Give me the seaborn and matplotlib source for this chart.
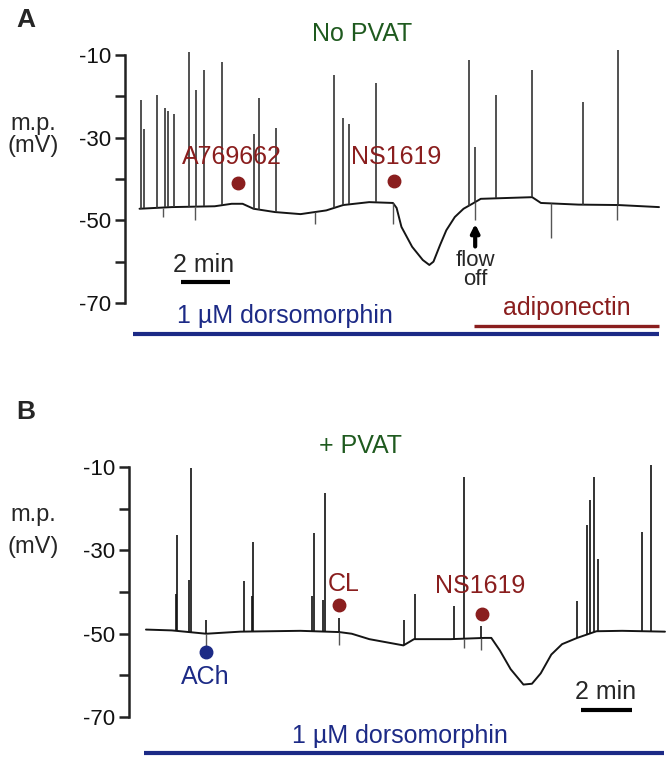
import numpy as np
import pandas as pd
import matplotlib
matplotlib.use("Agg")
import matplotlib.pyplot as plt
import seaborn as sns

# ---- Panel A (No PVAT): baseline of the trace, time in min, potential in mV
a_base_t = [0.0, 1.33, 3.1, 3.8, 4.25, 4.7, 5.58, 6.64, 7.7, 8.4, 9.47, 10.45, 10.6,
            10.8, 11.24, 11.68, 11.95, 12.12, 12.39, 12.65, 13.0, 13.36, 13.72, 14.07,
            16.19, 16.55, 18.1, 19.73, 21.42]
a_base_mv = [-47.2, -46.8, -46.6, -46.0, -46.0, -47.2, -48.0, -48.5, -47.6, -46.3, -45.6,
             -45.8, -47.0, -51.6, -56.4, -59.6, -60.8, -60.0, -56.0, -52.4, -49.2, -47.2,
             -46.0, -44.8, -44.4, -45.8, -46.2, -46.3, -46.8]
# spikes (time, peak) and downward artefacts (time, minimum)
a_spike_t = [0.05, 0.2, 0.74, 1.03, 1.19, 1.42, 2.05, 2.32, 2.67, 3.40, 4.73, 4.94, 5.61,
             8.02, 8.37, 8.62, 9.73, 13.58, 13.84, 14.69, 16.19, 18.27, 19.73]
a_spike_mv = [-20.8, -28.0, -19.8, -22.8, -23.6, -24.2, -9.2, -18.4, -13.6, -11.6, -29.2,
              -20.4, -27.6, -14.8, -25.2, -26.8, -16.8, -11.2, -32.2, -19.8, -13.6, -21.4,
              -8.8]
a_dip_t = [0.95, 2.28, 7.22, 10.45, 13.84, 16.95, 19.7]
a_dip_mv = [-49.2, -50.0, -50.8, -51.0, -50.0, -54.2, -50.0]

# ---- Panel B (+ PVAT)
b_base_t = [0.0, 1.03, 2.4, 3.76, 6.15, 7.7, 8.2, 8.9, 10.26, 10.68, 12.14, 13.5, 13.76,
            14.1, 14.53, 15.04, 15.38, 15.73, 16.15, 16.58, 17.18, 17.95, 18.97, 20.68]
b_base_mv = [-49.0, -49.2, -50.0, -49.5, -49.3, -49.6, -50.0, -51.3, -52.8, -51.3, -51.3,
             -51.0, -51.0, -54.0, -58.5, -62.2, -62.0, -59.5, -55.0, -52.5, -51.0, -49.4,
             -49.3, -49.5]
b_spike_t = [1.25, 1.79, 2.41, 3.90, 4.27, 6.68, 7.13, 7.69, 10.29, 10.70, 12.26, 12.68,
             13.33, 17.18, 17.56, 17.68, 17.86, 18.0, 19.76, 20.12]
b_spike_mv = [-26.2, -10.2, -46.6, -37.3, -28.0, -25.8, -16.3, -46.3, -46.6, -40.5, -43.4,
              -12.3, -48.2, -42.1, -24.0, -17.9, -12.3, -32.1, -25.6, -9.4]
# broad shoulders under some B spikes (time, shoulder mV)
b_shoulder_t = [1.25, 1.79, 4.27, 6.68, 7.13]
b_shoulder_mv = [-40.5, -37.0, -41.0, -41.0, -42.0]
b_dip_t = [2.41, 7.69, 12.68, 13.33]
b_dip_mv = [-53.5, -52.6, -53.5, -53.9]

# drug applications and labels
a_drugs = ["A769662", "NS1619"]
a_drug_t = [4.04, 10.5]
b_drugs = ["CL", "NS1619"]
b_drug_t = [7.69, 13.38]

GREEN = "#1f5a1f"
RED = "#8a1e1e"
BLUE = "#1c2a86"

sns.set_style("ticks")
plt.rcParams["font.family"] = ["Liberation Sans", "DejaVu Sans"]

fig = plt.figure(figsize=(6.7, 7.64), dpi=100)
ax_a = fig.add_axes([0.1866, 0.5493, 0.8104, 0.4058])
ax_b = fig.add_axes([0.1925, 0.0069, 0.8045, 0.4090])


def draw_trace(ax, base_t, base_mv, spike_t, spike_mv, dip_t, dip_mv, spike_color):
    trace = pd.DataFrame({"t": base_t, "mv": base_mv})
    sns.lineplot(data=trace, x="t", y="mv", ax=ax, color="#151515", lw=1.4,
                 estimator=None, sort=False)
    sp_base = np.interp(spike_t, base_t, base_mv)
    ax.vlines(spike_t, sp_base, spike_mv, color=spike_color, lw=1.2)
    dp_base = np.interp(dip_t, base_t, base_mv)
    ax.vlines(dip_t, dip_mv, dp_base, color="#555555", lw=1.0)


def style_axis(ax, xlim):
    ax.set_xlim(*xlim)
    ax.set_ylim(-80, -5)
    ax.set_yticks(range(-70, 0, 10))
    ax.set_yticklabels(["-70", "", "-50", "", "-30", "", "-10"])
    ax.set_xticks([])
    ax.set_xlabel("")
    ax.set_ylabel("")
    for s in ["top", "right", "bottom"]:
        ax.spines[s].set_visible(False)
    ax.spines["left"].set_bounds(-70, -10)
    ax.spines["left"].set_linewidth(1.8)
    ax.spines["left"].set_color("#222222")
    ax.tick_params(axis="y", length=7, width=1.8, color="#222222", pad=3,
                   labelsize=16, labelcolor="#111111")
    ax.patch.set_alpha(0)


# ---------------- Panel A ----------------
draw_trace(ax_a, a_base_t, a_base_mv, a_spike_t, a_spike_mv, a_dip_t, a_dip_mv, "#333333")
style_axis(ax_a, (-0.598, 21.79))
ax_a.text(-4.68, -1.5, "A", fontsize=19, fontweight="bold", ha="center", va="center")
ax_a.text(9.18, -4.9, "No PVAT", fontsize=18, color=GREEN, ha="center", va="center")
ax_a.text(-4.4, -26.8, "m.p.", fontsize=17, ha="center", va="center")
ax_a.text(-4.4, -32.0, "(mV)", fontsize=17, ha="center", va="center")
ax_a.plot(a_drug_t, [-41.0, -40.6], "o", color=RED, ms=9)
ax_a.text(3.8, -34.8, a_drugs[0], fontsize=18, color=RED, ha="center", va="center")
ax_a.text(10.6, -34.8, a_drugs[1], fontsize=18, color=RED, ha="center", va="center")
ax_a.plot([1.72, 3.72], [-64.8, -64.8], color="black", lw=3, solid_capstyle="butt")
ax_a.text(2.65, -60.8, "2 min", fontsize=18, ha="center", va="center")
ax_a.annotate("", xy=(13.84, -50.2), xytext=(13.84, -57.0),
              arrowprops=dict(arrowstyle="-|>", lw=3, color="black", mutation_scale=12))
ax_a.text(13.84, -59.6, "flow", fontsize=16, ha="center", va="center")
ax_a.text(13.84, -64.3, "off", fontsize=16, ha="center", va="center")
ax_a.plot([-0.27, 21.42], [-77.6, -77.6], color=BLUE, lw=3, solid_capstyle="butt")
ax_a.text(6.0, -73.2, "1 µM dorsomorphin", fontsize=18, color=BLUE, ha="center", va="center")
ax_a.plot([13.8, 21.42], [-75.6, -75.6], color=RED, lw=2.4, solid_capstyle="butt")
ax_a.text(17.6, -71.2, "adiponectin", fontsize=18, color=RED, ha="center", va="center")

# ---------------- Panel B ----------------
draw_trace(ax_b, b_base_t, b_base_mv, b_spike_t, b_spike_mv, b_dip_t, b_dip_mv, "#111111")
sh_base = np.interp(b_shoulder_t, b_base_t, b_base_mv)
ax_b.vlines(np.array(b_shoulder_t) - 0.06, sh_base, b_shoulder_mv, color="#111111", lw=1.2)
style_axis(ax_b, (-0.677, 20.8))
ax_b.text(-4.78, 3.2, "B", fontsize=19, fontweight="bold", ha="center", va="center")
ax_b.text(8.53, -5.0, "+ PVAT", fontsize=18, color=GREEN, ha="center", va="center")
ax_b.text(-4.5, -21.6, "m.p.", fontsize=17, ha="center", va="center")
ax_b.text(-4.5, -29.2, "(mV)", fontsize=17, ha="center", va="center")
ax_b.plot([2.41], [-54.4], "o", color=BLUE, ms=9)
ax_b.text(2.35, -60.3, "ACh", fontsize=18, color=BLUE, ha="center", va="center")
ax_b.plot(b_drug_t, [-43.2, -45.2], "o", color=RED, ms=9)
ax_b.text(7.86, -38.1, b_drugs[0], fontsize=18, color=RED, ha="center", va="center")
ax_b.text(13.33, -38.5, b_drugs[1], fontsize=18, color=RED, ha="center", va="center")
ax_b.plot([17.35, 19.35], [-68.4, -68.4], color="black", lw=3, solid_capstyle="butt")
ax_b.text(18.3, -64.0, "2 min", fontsize=18, ha="center", va="center")
ax_b.plot([-0.09, 20.65], [-78.7, -78.7], color=BLUE, lw=3, solid_capstyle="butt")
ax_b.text(10.1, -74.5, "1 µM dorsomorphin", fontsize=18, color=BLUE, ha="center", va="center")

fig.savefig("out.png", dpi=100)
